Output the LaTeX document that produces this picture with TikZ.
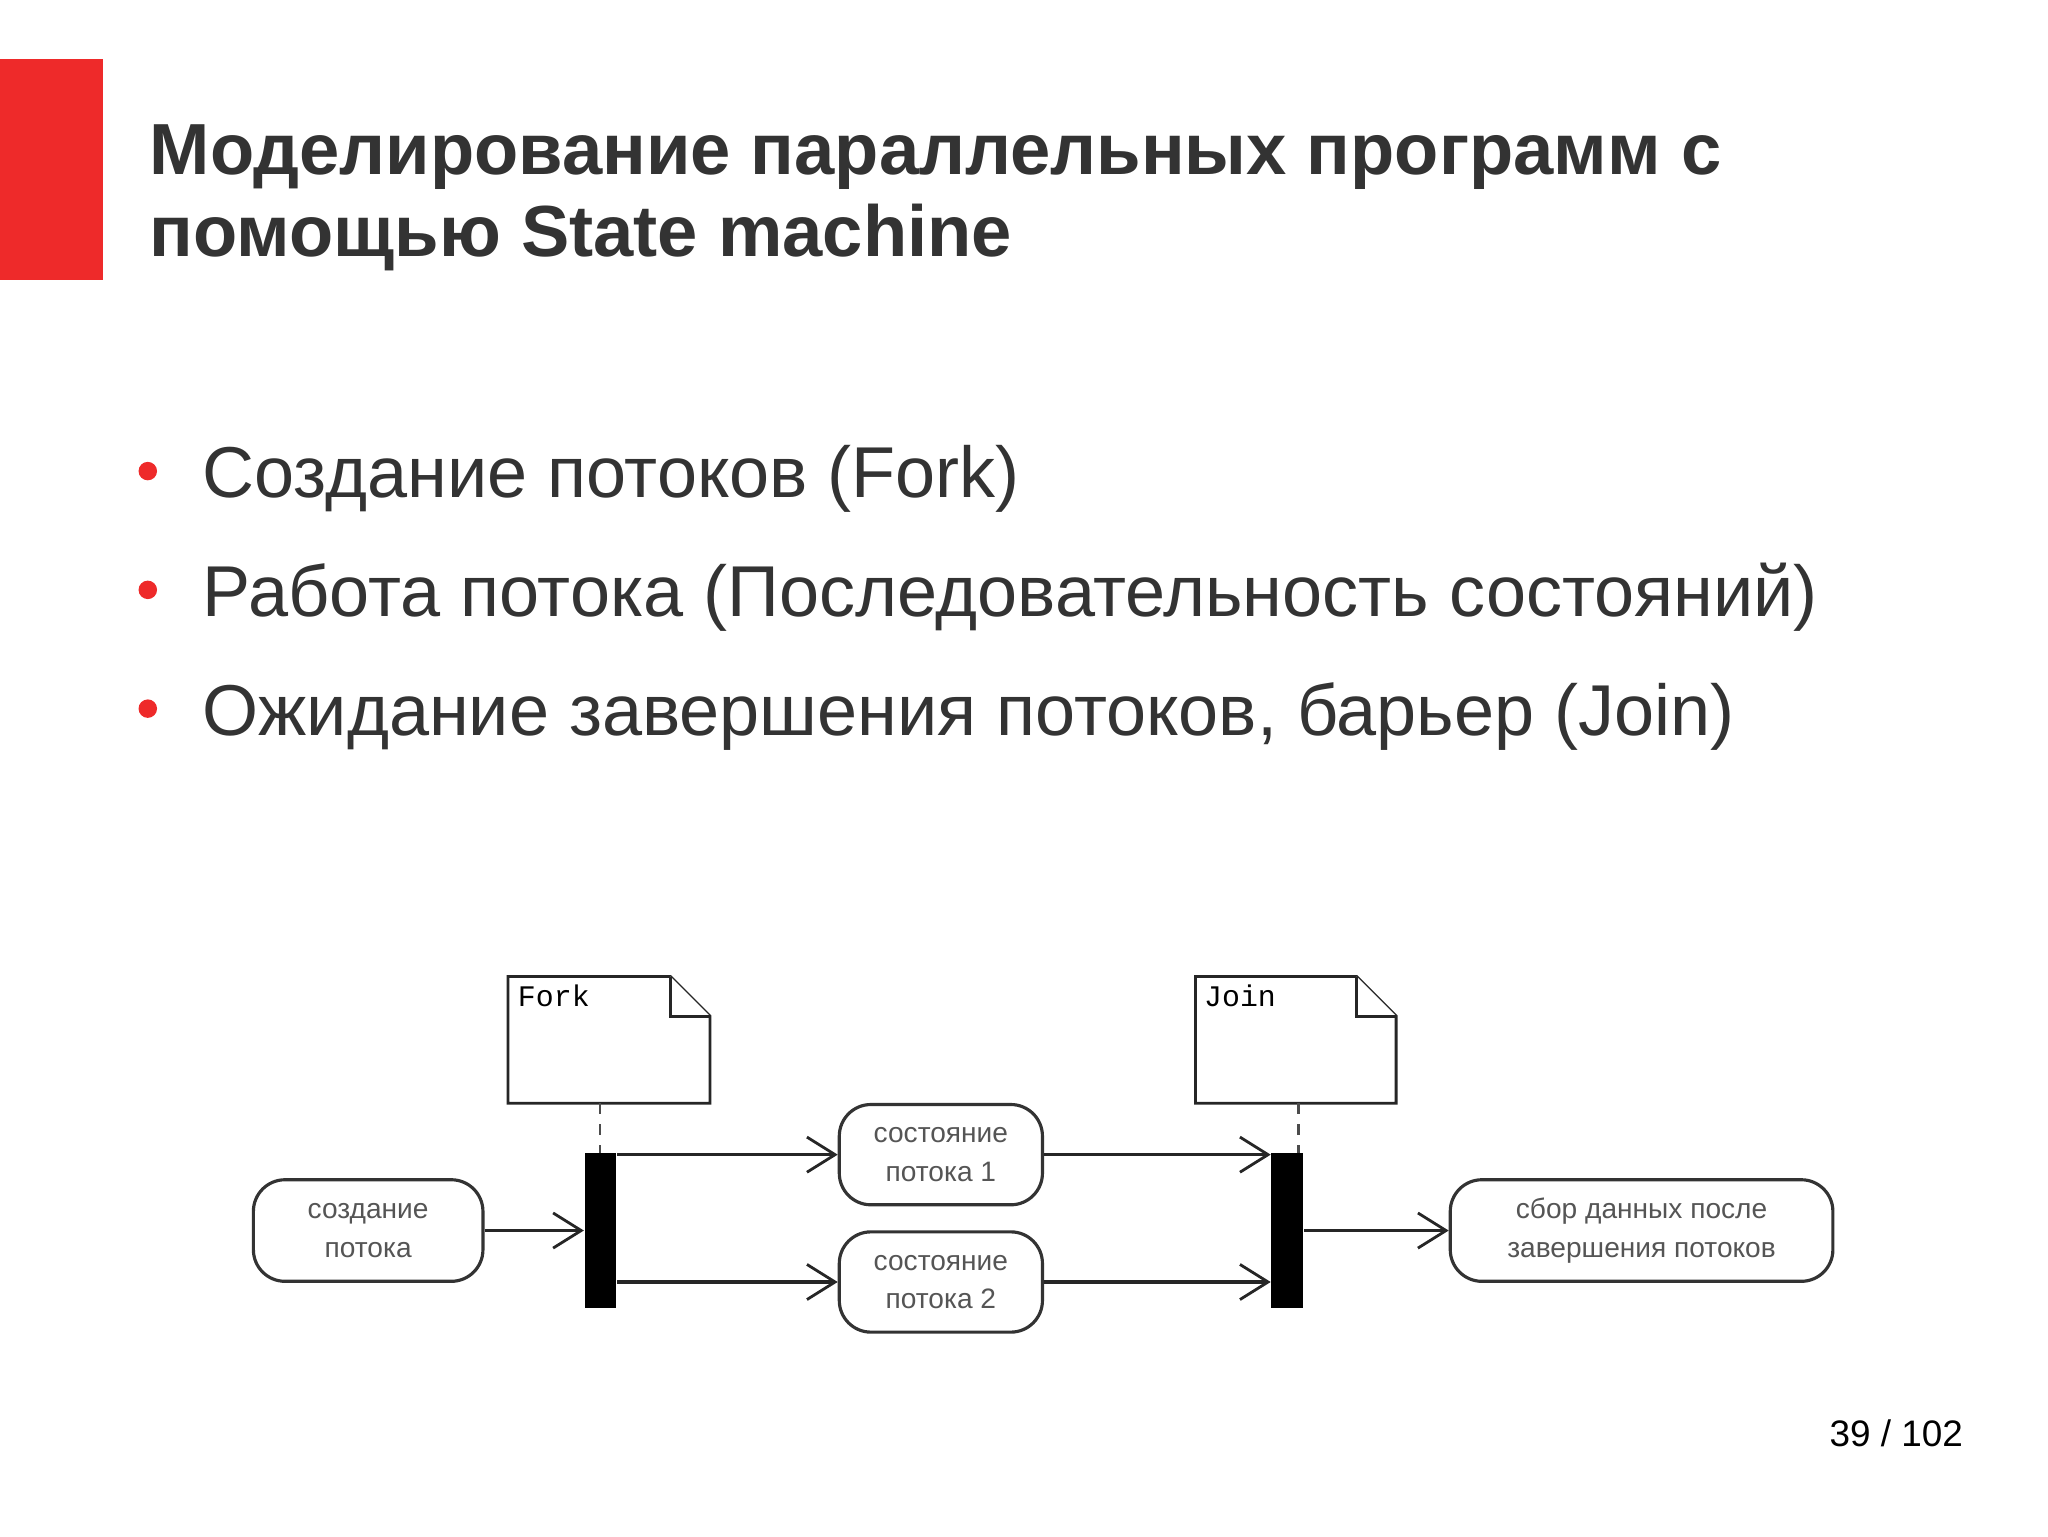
\documentclass[tikz,border=0pt]{standalone}
\usepackage{fontspec}
\setmainfont{Liberation Sans}
\newfontfamily\monof{Liberation Mono}
\usetikzlibrary{arrows.meta}
\definecolor{redbar}{HTML}{EE2A2A}
\definecolor{txt}{HTML}{333333}
\definecolor{boxtxt}{HTML}{555555}
\begin{document}
\begin{tikzpicture}[x=0.013196cm,y=-0.013196cm,
  box/.style={draw=black!80,line width=0.9pt,rounded corners=9pt,align=center,font=\fontsize{8}{11}\selectfont,text=boxtxt,inner sep=0pt},
  bar/.style={fill=black,draw=none,minimum width=0.317cm,minimum height=1.544cm,inner sep=0pt},
  arr/.style={draw=black!85,line width=0.9pt,-{Straight Barb[length=8pt,width=10pt,line width=0.8pt]}},
  note/.style={draw=black!85,line width=0.8pt,fill=white},
  bullet/.style={anchor=base west,font=\fontsize{20.5}{24}\selectfont,text=txt,inner sep=0pt}]
\useasboundingbox (0,0) rectangle (1552,1164);
\fill[redbar] (0,45) rectangle (78,212);
\node[anchor=base west,inner sep=0pt,align=left,font=\bfseries\fontsize{20.6}{23}\selectfont,text=txt] (title) at (113,132) {Моделирование параллельных программ с};
\node[anchor=base west,inner sep=0pt,font=\bfseries\fontsize{20.6}{23}\selectfont,text=txt] (title2) at (113,194) {помощью State machine};
\foreach \y/\t [count=\i] in {377/{Создание потоков (Fork)},467/{Работа потока (Последовательность состояний)},557/{Ожидание завершения потоков, барьер (Join)}}{
  \fill[redbar] (112,\y-20) circle (7);
  \node[bullet] (b\i) at (153,\y) {\t};
}
\node[anchor=base east,inner sep=0pt,font=\fontsize{10.5}{12}\selectfont,text=black] (pg) at (1488,1096) {39 / 102};
% notes
\draw[note] (385,740) -- (508,740) -- (538,770) -- (538,836) -- (385,836) -- cycle;
\draw[note] (508,740) -- (508,770) -- (538,770);
\draw[note] (906,740) -- (1028,740) -- (1058,770) -- (1058,836) -- (906,836) -- cycle;
\draw[note] (1028,740) -- (1028,770) -- (1058,770);
\node[anchor=north west,inner sep=0pt,font=\monof\fontsize{8.5}{10}\selectfont] (fk) at (392,746) {Fork};
\node[anchor=north west,inner sep=0pt,font=\monof\fontsize{8.5}{10}\selectfont] (jn) at (912,746) {Join};
\coordinate (fn) at (455,836);
\coordinate (jnb) at (984,836);
% nodes
\node[box,minimum width=2.296cm,minimum height=1.016cm] (create) at (279,932.5) {создание\\потока};
\node[box,minimum width=2.032cm,minimum height=1.003cm] (s1) at (713,875) {состояние\\потока 1};
\node[box,minimum width=2.032cm,minimum height=1.003cm] (s2) at (713,971.5) {состояние\\потока 2};
\node[box,minimum width=3.827cm,minimum height=1.016cm] (sbor) at (1244,932.5) {сбор данных после\\завершения потоков};
\node[bar] (fork) at (455,932.5) {};
\node[bar] (join) at (975.5,932.5) {};
\draw[dashed,black!70,line width=0.6pt] (fn) -- (fork.north -| fn);
\draw[dashed,black!70,line width=0.6pt] (jnb) -- (join.north -| jnb);
% arrows
\draw[arr] (create.east) -- (fork.west |- create.east);
\draw[arr] (fork.east |- s1.west) -- (s1.west);
\draw[arr] (fork.east |- s2.west) -- (s2.west);
\draw[arr] (s1.east) -- (join.west |- s1.east);
\draw[arr] (s2.east) -- (join.west |- s2.east);
\draw[arr] (join.east |- sbor.west) -- (sbor.west);
\end{tikzpicture}
\end{document}
